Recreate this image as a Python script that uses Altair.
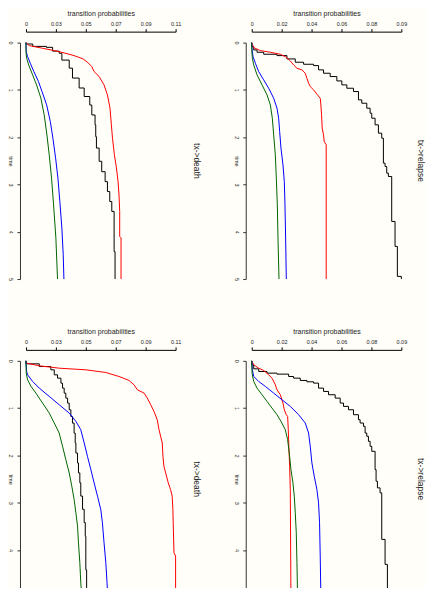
import altair as alt
import pandas as pd

# ---------------- data ----------------
# Panel A: top-left, tx->death
A_black_t = [0, 0.03, 0.08, 0.10, 0.18, 0.225, 0.37, 0.54, 0.75, 0.96, 1.14, 1.32, 1.53, 1.74, 1.99, 2.23, 2.51, 2.73, 2.94, 3.15, 3.36, 3.57, 4.42, 5.0]
A_black_p = [0, .005, .015, .0196, .0244, .0264, .0318, .0342, .0391, .0428, .0469, .0484, .0508, .0513, .0518, .0538, .0557, .0582, .0599, .0616, .0631, .0648, .0655, .0655]
A_red_t = [0, 0.063, 0.12, 0.176, 0.218, 0.275, 0.345, 0.415, 0.507, 0.613, 0.718, 0.894, 1.106, 1.387, 1.739, 2.02, 2.37, 2.65, 2.94, 3.22, 3.57, 4.10, 4.13, 5.0]
A_red_p = [0, .0024, .0122, .022, .0281, .0354, .042, .0452, .0484, .0501, .0538, .0574, .0599, .0618, .0628, .0636, .065, .0665, .0677, .0684, .0689, .0689, .0699, .0699]
A_blue_t = [0, 0.19, 0.296, 0.437, 0.613, 0.824, 1.035, 1.317, 1.669, 2.021, 2.444, 2.866, 3.359, 3.923, 4.486, 5.0]
A_blue_p = [0, .0002, .0012, .0032, .0058, .0092, .0118, .0152, .0179, .0198, .0218, .0235, .0249, .0264, .0274, .0279]
A_green_t = [0, 0.225, 0.331, 0.472, 0.683, 0.894, 1.176, 1.528, 1.951, 2.373, 2.866, 3.43, 4.134, 5.0]
A_green_p = [0, .0001, .0005, .002, .0049, .0078, .011, .0134, .0154, .0171, .0188, .0203, .022, .0232]

# Panel B: top-right, tx->relapse
B_black_t = [0, .085, .155, .204, .246, .275, .345, .415, .458, .486, .577, .648, .718, .81, .894, .965, 1.035, 1.211, 1.282, 1.387, 1.493, 1.599, 1.739, 1.915, 2.021, 2.549, 2.62, 2.761, 2.831, 3.782, 4.31, 4.944, 5.0]
B_black_p = [0, .0012, .0032, .0072, .0152, .0212, .0262, .0312, .0372, .0402, .0432, .0472, .0512, .0542, .0572, .0612, .0642, .0662, .0692, .0712, .0722, .0742, .0762, .0782, .0792, .0802, .0812, .0822, .0842, .0862, .0876, .09, .09]
B_red_t = [0, .106, .169, .204, .246, .296, .387, .472, .542, .577, .648, .754, .859, .93, 1.0, 1.106, 1.176, 1.317, 1.528, 1.81, 1.951, 2.092, 2.162, 5.0]
B_red_p = [0, .0012, .0052, .0112, .0172, .0202, .0232, .0252, .0272, .0302, .0322, .0332, .0342, .0352, .0372, .0396, .0412, .0416, .042, .0424, .0432, .0436, .0448, .0448]
B_blue_t = [0, .15, .296, .437, .613, .789, .965, 1.176, 1.387, 1.599, 1.88, 2.232, 2.585, 2.937, 3.43, 4.134, 5.0]
B_blue_p = [0, .0002, .0008, .0022, .0042, .0072, .0102, .0132, .0152, .0162, .0168, .0176, .0188, .0196, .02, .0204, .0208]
B_green_t = [0, .2, .331, .472, .683, .894, 1.106, 1.317, 1.599, 1.951, 2.373, 2.866, 3.43, 4.134, 5.0]
B_green_p = [0, .0001, .0004, .0012, .0032, .0062, .0092, .0112, .0124, .0132, .0142, .0148, .0154, .0158, .0164]

# Panel C: bottom-left, tx->death
C_black_t = [0, .063, .12, .19, .296, .366, .472, .577, .683, .789, .894, 1.035, 1.176, 1.317, 1.528, 1.739, 1.95, 2.16, 2.37, 2.58, 2.86, 3.14, 3.42, 3.71, 4.42, 5.0]
C_black_p = [0, .0098, .0183, .0208, .0232, .0257, .0269, .0281, .0293, .0306, .0318, .033, .0342, .0354, .0362, .0367, .0379, .0386, .0396, .0403, .0416, .0428, .0436, .044, .0446, .0446]
C_red_t = [0, .049, .105, .155, .19, .246, .331, .415, .506, .612, .682, .788, .928, 1.069, 1.245, 1.456, 1.737, 2.018, 2.229, 2.37, 2.581, 2.722, 2.862, 3.143, 4.058, 4.128, 5.0]
C_red_p = [0, .0005, .0098, .0244, .044, .0587, .0684, .0758, .0794, .0819, .0868, .0892, .0917, .0941, .0965, .0978, .1002, .1007, .1014, .1027, .1046, .1063, .1075, .108, .1088, .11, .11]
C_blue_t = [0, .225, .295, .436, .577, .752, .928, 1.104, 1.28, 1.456, 1.737, 2.018, 2.3, 2.581, 2.862, 3.143, 3.425, 3.847, 4.269, 4.691, 5.0]
C_blue_p = [0, .0005, .0012, .0049, .0098, .0171, .0244, .0318, .0367, .0403, .0428, .0452, .0477, .0501, .0526, .055, .0562, .0574, .0587, .0596, .0601]
C_green_t = [0, .26, .401, .541, .682, .893, 1.104, 1.315, 1.526, 1.807, 2.089, 2.37, 2.651, 2.932, 3.214, 3.495, 3.847, 4.269, 4.691, 5.0]
C_green_p = [0, .0002, .0012, .0037, .0073, .0122, .0171, .0208, .0244, .0269, .0293, .0318, .0337, .0354, .0367, .0379, .0386, .0396, .0403, .0411]

# Panel D: bottom-right, tx->relapse
D_black_t = [0, .084, .169, .225, .26, .281, .331, .366, .415, .443, .471, .577, .647, .717, .788, .893, .963, 1.034, 1.139, 1.245, 1.315, 1.385, 1.526, 1.596, 1.702, 1.807, 1.913, 2.3, 2.546, 2.686, 2.792, 3.776, 4.304, 4.937, 5.0]
D_black_p = [0, .0012, .0042, .0092, .0152, .0222, .0252, .0292, .0332, .0372, .0402, .0432, .0462, .0502, .0532, .0552, .0582, .0612, .0642, .0652, .0672, .0682, .0692, .0702, .0712, .0722, .0742, .0748, .0756, .0772, .0782, .0802, .0816, .0832, .0832]
D_red_t = [0, .084, .155, .204, .295, .366, .506, .612, .717, .893, 1.034, 1.139, 1.174, 1.456, 1.878, 2.229, 2.722, 5.0]
D_red_p = [0, .0012, .0042, .0072, .0102, .0122, .0142, .0152, .0172, .0188, .0196, .0208, .0216, .022, .0224, .0228, .0232, .0236]
D_blue_t = [0, .19, .331, .436, .541, .682, .823, .963, 1.139, 1.315, 1.526, 1.807, 2.159, 2.44, 2.722, 3.003, 3.425, 4.128, 5.0]
D_blue_p = [0, .0004, .0012, .0042, .0082, .0132, .0182, .0232, .0282, .0322, .0342, .0352, .0362, .0376, .0392, .0402, .0408, .0412, .0416]
D_green_t = [0, .26, .436, .577, .717, .858, .999, 1.139, 1.28, 1.456, 1.667, 2.018, 2.3, 2.581, 2.862, 3.214, 3.636, 4.269, 5.0]
D_green_p = [0, .0002, .0012, .0032, .0062, .0092, .0122, .0152, .0176, .0202, .0216, .0228, .0236, .0248, .0256, .0262, .0268, .0272, .0276]

# axis ticks / labels
LEFT_TICKS = [0, 0.022, 0.044, 0.066, 0.088, 0.11]
LEFT_LABELS = ["0", "0.03", "0.05", "0.07", "0.09", "0.11"]
RIGHT_TICKS = [0, 0.018, 0.036, 0.054, 0.072, 0.09]
RIGHT_LABELS = ["0", "0.02", "0.04", "0.06", "0.08", "0.09"]
TIME_TICKS = [0, 1, 2, 3, 4, 5]
SERIES = ["black", "red", "blue", "green"]
COLORS = ["#000000", "#ff0000", "#0000ff", "#006400"]

FONT = "Liberation Sans"
BG = "#fffef9"


def label_expr(vals, labels):
    expr = "''"
    for v, l in reversed(list(zip(vals, labels))):
        expr = f"abs(datum.value - {v}) < 1e-6 ? '{l}' : {expr}"
    return expr


def panel(title, xmax, ticks, labels, series, title_offset):
    rows = []
    for name, (ts, ps) in zip(SERIES, series):
        for i, (t, p) in enumerate(zip(ts, ps)):
            rows.append({"s": name, "t": t, "p": p, "i": i})
    df = pd.DataFrame(rows)
    x = alt.X(
        "p:Q",
        scale=alt.Scale(domain=[0, xmax], nice=False, zero=True),
        axis=alt.Axis(
            orient="top", values=ticks, labelExpr=label_expr(ticks, labels),
            title="transition probabilities", titleFont=FONT, titleFontSize=7,
            titleFontWeight="normal", titleColor="#222", titlePadding=5.3,
            labelFont=FONT, labelFontSize=5.5, labelColor="#222", labelPadding=2,
            labelAngle=0, offset=11, tickSize=3, domainColor="#000", tickColor="#000",
            domainWidth=1, tickWidth=1, grid=False, labelFlush=False, labelOverlap=False,
        ),
    )
    y = alt.Y(
        "t:Q",
        scale=alt.Scale(domain=[0, 5], nice=False, reverse=True),
        axis=alt.Axis(
            orient="left", values=TIME_TICKS, format="d",
            title="time", titleFont=FONT, titleFontSize=5.5, titleFontWeight="normal",
            titleColor="#222", titleAngle=90, titleAlign="center", titleBaseline="top",
            titlePadding=-5.5,
            labelFont=FONT, labelFontSize=5.5, labelColor="#222", labelAngle=90,
            labelAlign="center", labelBaseline="top", labelPadding=4,
            offset=6, tickSize=3, domainColor="#333", tickColor="#333",
            domainWidth=1, tickWidth=1, grid=False, labelFlush=False, labelOverlap=False,
        ),
    )
    base = alt.Chart(df)
    step = base.transform_filter(alt.datum.s == "black").mark_line(
        interpolate="step-before", strokeWidth=1, color="#000000"
    ).encode(x=x, y=y, order="i:Q")
    smooth = base.transform_filter(alt.datum.s != "black").mark_line(
        interpolate="linear", strokeWidth=1
    ).encode(
        x=x, y=y, order="i:Q",
        color=alt.Color("s:N", scale=alt.Scale(domain=SERIES[1:], range=COLORS[1:]), legend=None),
        detail="s:N",
    )
    return alt.layer(step, smooth).properties(
        width=150, height=237,
        title=alt.TitleParams(
            title, orient="right", angle=90, baseline="bottom", anchor="middle",
            font=FONT, fontSize=8.5, fontWeight="normal", color="#222", offset=title_offset,
        ),
    )


pA = panel("tx->death", 0.11, LEFT_TICKS, LEFT_LABELS,
           [(A_black_t, A_black_p), (A_red_t, A_red_p), (A_blue_t, A_blue_p), (A_green_t, A_green_p)], 3)
pB = panel("tx->relapse", 0.09, RIGHT_TICKS, RIGHT_LABELS,
           [(B_black_t, B_black_p), (B_red_t, B_red_p), (B_blue_t, B_blue_p), (B_green_t, B_green_p)], 1)
pC = panel("tx->death", 0.11, LEFT_TICKS, LEFT_LABELS,
           [(C_black_t, C_black_p), (C_red_t, C_red_p), (C_blue_t, C_blue_p), (C_green_t, C_green_p)], 3)
pD = panel("tx->relapse", 0.09, RIGHT_TICKS, RIGHT_LABELS,
           [(D_black_t, D_black_p), (D_red_t, D_red_p), (D_blue_t, D_blue_p), (D_green_t, D_green_p)], 1)

chart = alt.concat(
    pA, pB, pC, pD, columns=2,
    spacing={"row": 82, "column": 76.3},
    bounds="flush",
    padding={"left": -1, "top": 0, "right": 0, "bottom": -13.3},
    background=BG,
).configure_view(stroke="transparent")

chart.save("out.html", embed_options={"renderer": "svg", "actions": False})
